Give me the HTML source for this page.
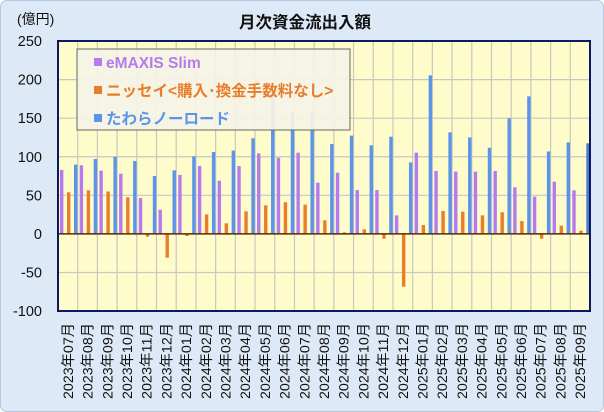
<!DOCTYPE html>
<html><head><meta charset="utf-8"><style>
body{margin:0;background:#fff}
svg{display:block;font-family:"Liberation Sans","Noto Sans CJK JP",sans-serif}
</style></head><body>
<svg width="604" height="412" viewBox="0 0 604 412" xmlns="http://www.w3.org/2000/svg">
<rect x="0.5" y="0.5" width="603" height="411" rx="6" fill="#dde9f6" stroke="#b8c8dc"/>
<text x="305" y="28" text-anchor="middle" font-size="16.5" font-weight="bold" fill="#111">月次資金流出入額</text>
<text x="17" y="24" font-size="14" fill="#111">(億円)</text>
<rect x="58" y="41" width="532" height="270" fill="#fffccc"/>
<g id="grid" stroke="#c8c8c0" stroke-width="1.2"></g>
<g id="bars"></g>
<line x1="58" y1="233.9" x2="590" y2="233.9" stroke="#5a2a00" stroke-width="1.5"/>
<rect x="58" y="41" width="532" height="270" fill="none" stroke="#0a1a60" stroke-width="2"/>
<g id="yl" font-size="14.5" fill="#111" text-anchor="end"></g>
<g id="xl" font-size="14" fill="#111"></g>
<rect x="77" y="49" width="273" height="81" fill="#f5f3e6" fill-opacity="0.93" stroke="#666" stroke-width="1"/>
<rect x="94" y="58" width="8" height="8" fill="#b57bee"/>
<text x="106" y="68" font-size="15.5" font-weight="bold" fill="#b57bee">eMAXIS Slim</text>
<rect x="94" y="86" width="8" height="8" fill="#e87d2c"/>
<text x="106" y="96" font-size="15.5" font-weight="bold" fill="#e87d2c">ニッセイ&lt;購入･換金手数料なし&gt;</text>
<rect x="94" y="114" width="8" height="8" fill="#5b94e8"/>
<text x="106" y="124" font-size="15.5" font-weight="bold" fill="#5b94e8">たわらノーロード</text>
</svg>
<script>
const P=[83,89,82,78,46.5,31.4,76.4,88,69,88,104.4,98.8,105.3,66.4,79.4,56.9,56.9,24,105.3,81.6,80.7,80.7,81.6,60.4,48.3,67.7,56.5];
const O=[54,56.5,55,47.4,-3.6,-30.8,-2.7,25.4,13.7,29.3,37,41,38,17.6,2,5.9,-6.2,-68.4,11.5,29.7,28.8,24,28,16.6,-6.2,10.7,4.2];
const B=[89.8,97.1,100.1,94.5,75.1,82.4,100.6,106.2,108,123.9,182,158,158,116.6,127.4,114.8,126,92.7,205.5,131.6,125.1,111.7,149.8,178.3,106.9,118.6,117.4];
const ns="http://www.w3.org/2000/svg",k=270/350,z=233.9,w=532/27;
function el(p,t,a,txt){const e=document.createElementNS(ns,t);for(const q in a)e.setAttribute(q,a[q]);if(txt!==undefined)e.textContent=txt;document.getElementById(p).appendChild(e);}
for(let i=1;i<27;i++){const x=58+w*i;el("grid","line",{x1:x,y1:41,x2:x,y2:311});}
for(let v=-100;v<=250;v+=50){const y=z-v*k;if(v>-100&&v<250)el("grid","line",{x1:58,y1:y,x2:590,y2:y});el("yl","text",{x:42,y:y+5},String(v));}
function bar(x,v,c){const y=v>=0?z-v*k:z;el("bars","rect",{x:x,y:y,width:3.4,height:Math.abs(v)*k,fill:c});}
const labs=[];for(let i=0;i<27;i++){const m=7+i,yy=2023+Math.floor((m-1)/12),mm=((m-1)%12)+1;labs.push(yy+"年"+String(mm).padStart(2,"0")+"月");}
for(let i=0;i<27;i++){const x0=58+w*i;bar(x0+2,P[i],"#b57bee");bar(x0+9,O[i],"#e87d2c");bar(x0+16,B[i],i==26?"#4a78d8":"#5b94e8");
const cx=x0+w/2+5;el("xl","text",{x:0,y:0,transform:`translate(${cx},399) rotate(-90)`,textLength:76,lengthAdjust:"spacingAndGlyphs"},labs[i]);}
</script>
</body></html>
